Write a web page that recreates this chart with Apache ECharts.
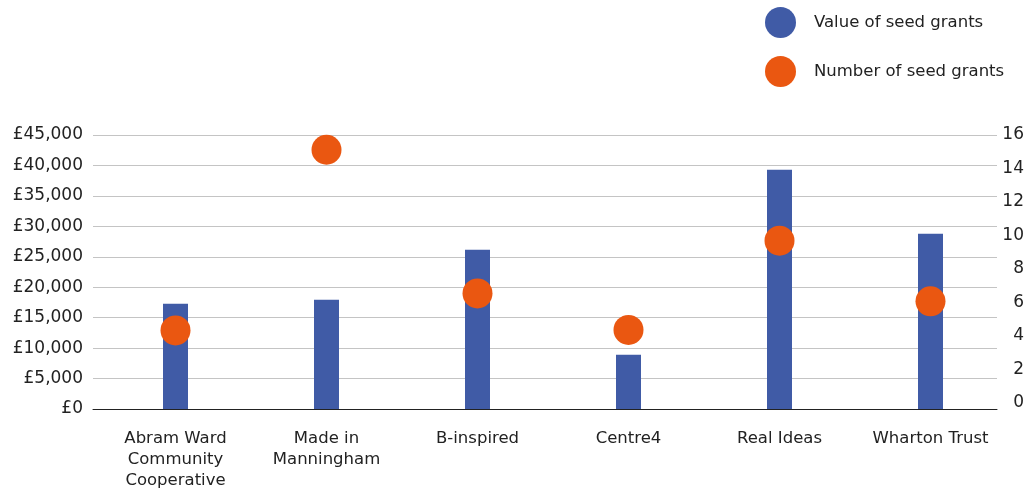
<!DOCTYPE html>
<html>
<head>
<meta charset="utf-8">
<title>Seed grants</title>
<script src="https://cdn.jsdelivr.net/npm/echarts@6/dist/echarts.min.js"></script>
<style>
  html, body { margin: 0; padding: 0; background: #fff; }
  #chart { width: 1029px; height: 489px; }
</style>
</head>
<body>
<div id="chart"></div>
<script>
  // data
  var categories = [
    "Abram Ward\nCommunity\nCooperative",
    "Made in\nManningham",
    "B-inspired",
    "Centre4",
    "Real Ideas",
    "Wharton Trust"
  ];
  var grantValues = [17300, 17950, 26150, 8900, 39300, 28800];
  var grantCounts = [4.33, 15.12, 6.54, 4.36, 9.69, 6.07];
  var countTicks = [0, 2, 4, 6, 8, 10, 12, 14, 16];

  var font = "DejaVu Sans";
  var blue = "#405ba6";
  var orange = "#ea5711";

  var chart = echarts.init(document.getElementById("chart"), null, {renderer: "canvas"});

  chart.setOption({
    animation: false,
    textStyle: {fontFamily: font},
    legend: {
      orient: "vertical",
      left: 760,
      top: 2,
      itemWidth: 31,
      itemHeight: 31,
      itemGap: 18,
      textStyle: {fontFamily: font, fontSize: 16.5, color: "#222", padding: [0, 0, 0, 13]},
      data: [
        {name: "Value of seed grants", icon: "circle"},
        {name: "Number of seed grants", icon: "circle"}
      ]
    },
    grid: [
      // gridlines + visible y axes
      {left: 93, right: 32, top: 135, bottom: 80, outerBoundsMode: "none"},
      // category band for the marks
      {left: 100, right: 23, top: 135, bottom: 80, outerBoundsMode: "none"}
    ],
    xAxis: [
      {
        type: "category",
        gridIndex: 0,
        data: categories,
        axisLine: {show: true, lineStyle: {color: "#222", width: 1}},
        axisTick: {show: false},
        axisLabel: {show: false}
      },
      {
        type: "category",
        gridIndex: 1,
        data: categories,
        axisLine: {show: false},
        axisTick: {show: false},
        axisLabel: {
          color: "#222",
          fontFamily: font,
          fontSize: 16.5,
          lineHeight: 21,
          margin: 19,
          interval: 0
        }
      }
    ],
    yAxis: [
      {
        type: "value",
        gridIndex: 0,
        position: "left",
        min: 0,
        max: 45000,
        interval: 5000,
        axisLine: {show: false},
        axisTick: {show: false},
        splitLine: {show: true, lineStyle: {color: "#c4c4c4", width: 1}},
        axisLabel: {
          color: "#222",
          fontFamily: font,
          fontSize: 17,
          margin: 10,
          formatter: function (v) {
            return "£" + v.toLocaleString("en-GB");
          }
        }
      },
      {
        type: "value",
        gridIndex: 0,
        position: "right",
        min: -0.358,
        max: 16,
        axisLine: {show: false},
        axisTick: {show: false},
        splitLine: {show: false},
        axisLabel: {
          color: "#222",
          fontFamily: font,
          fontSize: 17,
          align: "right",
          margin: 27,
          customValues: countTicks
        }
      },
      {
        type: "value",
        gridIndex: 1,
        min: 0,
        max: 45000,
        show: false,
        splitLine: {show: false}
      },
      {
        type: "value",
        gridIndex: 1,
        min: -0.358,
        max: 16,
        show: false,
        splitLine: {show: false}
      }
    ],
    series: [
      {
        name: "Value of seed grants",
        type: "bar",
        xAxisIndex: 1,
        yAxisIndex: 2,
        barWidth: 25,
        itemStyle: {color: blue},
        data: grantValues,
        z: 2
      },
      {
        name: "Number of seed grants",
        type: "scatter",
        xAxisIndex: 1,
        yAxisIndex: 3,
        symbol: "circle",
        symbolSize: 30,
        itemStyle: {color: orange, opacity: 1},
        data: grantCounts,
        z: 3
      }
    ]
  });
</script>
</body>
</html>
